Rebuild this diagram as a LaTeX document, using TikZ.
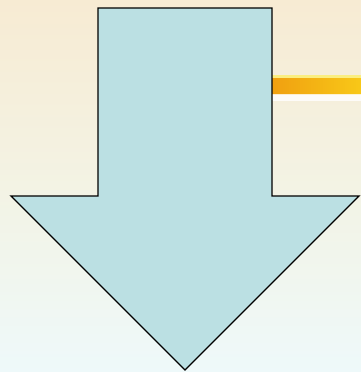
\documentclass[tikz,border=0pt]{standalone}
\usetikzlibrary{shadings}
\definecolor{bgtop}{HTML}{F7EBD3}
\definecolor{bgmid}{HTML}{F3F3E4}
\definecolor{bgbot}{HTML}{EEF9FA}
\definecolor{arrowfill}{HTML}{BBE0E3}
\definecolor{barL}{HTML}{F0A010}
\definecolor{barR}{HTML}{F8C818}
\tikzset{bigarrow/.style={fill=arrowfill, draw=black, line width=1.3pt, line join=miter}}
\begin{document}
\begin{tikzpicture}[x=1pt,y=-1pt]
\useasboundingbox (0,0) rectangle (361,372);
\shade[top color=bgtop, bottom color=bgbot, middle color=bgmid] (0,0) rectangle (361,372);
\shade[left color=barL, right color=barR] (272,78) rectangle (361,94);
\fill[white, opacity=0.8] (272,94) rectangle (361,101);
\fill[yellow!40!bgtop] (272,75) rectangle (361,78);
\draw[bigarrow] (98,8) -- (272,8) -- (272,196) -- (359,196) -- (185,370) -- (11,196) -- (98,196) -- cycle;
\end{tikzpicture}
\end{document}
